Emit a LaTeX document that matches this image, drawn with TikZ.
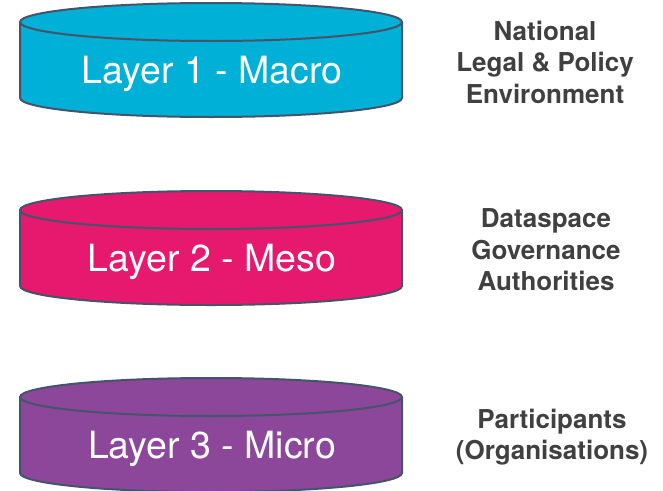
\documentclass[tikz,border=0pt]{standalone}
\usepackage{fontspec}
\setmainfont{TeX Gyre Heros}

\definecolor{macrocol}{HTML}{00B0D6}
\definecolor{mesocol}{HTML}{E6196F}
\definecolor{microcol}{HTML}{8C479A}
\definecolor{rimcol}{HTML}{44546A}
\definecolor{labelcol}{HTML}{404040}

\tikzset{
  rim/.style={draw=rimcol, line width=2pt, line join=round},
  layertext/.style={white, font=\fontsize{37.5}{44}\selectfont, anchor=base, inner sep=0pt},
  sidetext/.style={labelcol, align=center, font=\bfseries\fontsize{26}{31.5}\selectfont}
}

\begin{document}
\begin{tikzpicture}[x=1pt, y=-1pt]

  \useasboundingbox (0,0) rectangle (663,490);

  % the three disks (top centre y / colour)
  \foreach \cy/\col in {22/macrocol, 210/mesocol, 397/microcol}
  {
    % body
    \filldraw[rim, fill=\col] (20,\cy) -- (20,\cy+76)
      arc[start angle=180, end angle=360, x radius=191pt, y radius=19pt]
      -- (402,\cy) -- cycle;
    % lid
    \filldraw[rim, fill=\col] (211,\cy) ellipse [x radius=191pt, y radius=19pt];
  }

  % layer names
  \node[layertext] (macro) at (212,83)  {Layer 1 - Macro};
  \node[layertext] (meso)  at (212,271) {Layer 2 - Meso};
  \node[layertext] (micro) at (212,458) {Layer 3 - Micro};

  % labels on the right
  \node[sidetext] (national)     at (545,62)  {National\\Legal \& Policy\\Environment};
  \node[sidetext] (authorities)  at (546,250) {Dataspace\\Governance\\Authorities};
  \node[sidetext] (participants) at (552,437) {Participants\\(Organisations)};

\end{tikzpicture}
\end{document}
